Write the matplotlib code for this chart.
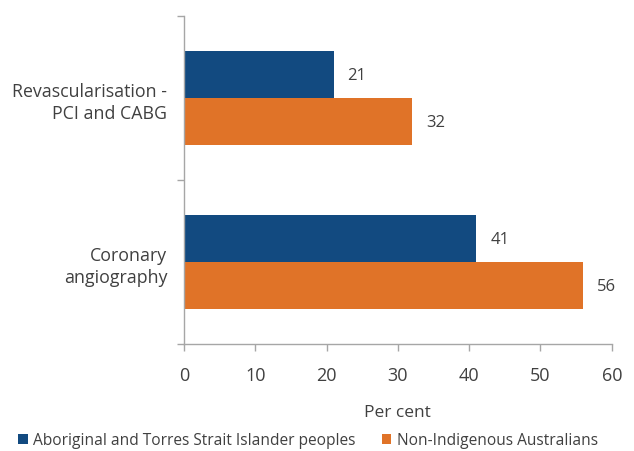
import numpy as np
import matplotlib.pyplot as plt
from matplotlib.ticker import FixedLocator

# dati
categorie = ["Coronary\nangiography", "Revascularisation -\nPCI and CABG"]
serie_nomi = ["Aboriginal and Torres Strait Islander peoples", "Non-Indigenous Australians"]
valori_indigeni = [41, 21]
valori_non_indigeni = [56, 32]
colori = ["#124A80", "#E07328"]

plt.rcParams["font.family"] = ["Open Sans", "DejaVu Sans"]
testo = "#404040"
grigio = "#A6A6A6"

fig = plt.figure(figsize=(6.34, 4.52), dpi=100)
ax = fig.add_axes([0.290, 0.2367, 0.675, 0.7255])

y = np.arange(len(categorie))
h = 0.287
bars1 = ax.barh(y + h / 2, valori_indigeni, h, color=colori[0], label=serie_nomi[0])
bars2 = ax.barh(y - h / 2, valori_non_indigeni, h, color=colori[1], label=serie_nomi[1])

# etichette valori
for bars in (bars1, bars2):
    for bar in bars:
        w = bar.get_width()
        ax.annotate(f"{w:.0f}", (w, bar.get_y() + bar.get_height() / 2),
                    xytext=(10, 0), textcoords="offset points",
                    ha="left", va="center", fontsize=12, color=testo)

ax.set_xlim(0, 60)
ax.set_ylim(-0.5, 1.5)
ax.set_xticks(np.arange(0, 61, 10))
ax.set_yticks(y)
ax.set_yticklabels(categorie, fontsize=12.8, color=testo, ha="right",
                   linespacing=1.25)
ax.yaxis.set_minor_locator(FixedLocator([-0.5, 0.5, 1.5]))
ax.tick_params(axis="y", which="major", length=0, pad=12)
ax.tick_params(axis="y", which="minor", length=5, color=grigio, width=1)
ax.tick_params(axis="x", length=5, color=grigio, width=1, labelsize=13,
               labelcolor=testo, pad=11)
for lab in ax.get_yticklabels():
    lab.set_multialignment("right")

for s in ("top", "right"):
    ax.spines[s].set_visible(False)
for s in ("left", "bottom"):
    ax.spines[s].set_color(grigio)
    ax.spines[s].set_linewidth(1)

ax.set_xlabel("Per cent", fontsize=12.5, color=testo, labelpad=14)

fig.legend(handles=[bars1, bars2], labels=serie_nomi, loc="lower left",
           bbox_to_anchor=(0.007, -0.025), ncol=2, frameon=False, fontsize=11.2,
           handlelength=0.6, handleheight=0.6, handletextpad=0.35,
           columnspacing=1.7, labelcolor=testo)

plt.savefig("out.png", dpi=100)
